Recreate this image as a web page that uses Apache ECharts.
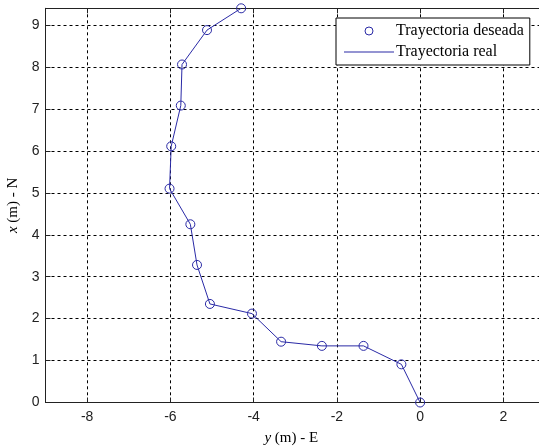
<!DOCTYPE html>
<html>
<head>
<meta charset="utf-8">
<script src="https://cdn.jsdelivr.net/npm/echarts@6/dist/echarts.min.js"></script>
<style>
html,body{margin:0;padding:0;background:#fff;}
#chart{width:539px;height:448px;}
</style>
</head>
<body>
<div id="chart"></div>
<script>
// Desired trajectory points: horizontal = y (m) - E, vertical = x (m) - N
const desiredE = [0, -0.45, -1.36, -2.36, -3.34, -4.04, -5.05, -5.36, -5.52, -6.02, -5.98, -5.75, -5.72, -5.12, -4.30];
const desiredN = [0, 0.91, 1.35, 1.35, 1.45, 2.12, 2.35, 3.28, 4.25, 5.10, 6.11, 7.08, 8.06, 8.88, 9.40];
// Real trajectory (follows the desired one)
const realE = [0, -0.45, -1.36, -2.36, -3.34, -4.04, -5.05, -5.36, -5.52, -6.02, -5.98, -5.75, -5.72, -5.12, -4.30];
const realN = [0, 0.91, 1.35, 1.35, 1.45, 2.12, 2.35, 3.28, 4.25, 5.10, 6.11, 7.08, 8.06, 8.88, 9.40];
const seriesNames = ['Trayectoria deseada', 'Trayectoria real'];
const xAxisTitle = ['y', ' (m) - E'];
const yAxisTitle = ['x', ' (m) - N'];

const blue = '#2a2aa6';
const chart = echarts.init(document.getElementById('chart'), null, {renderer: 'canvas'});

const pairs = (a, b) => a.map((v, i) => [v, b[i]]);

chart.setOption({
  backgroundColor: '#fff',
  animation: false,
  grid: {left: 45.5, top: 8.3, right: -6, bottom: 45.5, containLabel: false, outerBoundsMode: 'none'},
  legend: {
    left: 336, top: 18,
    orient: 'vertical',
    backgroundColor: '#fff',
    borderColor: '#000', borderWidth: 1, borderRadius: 0,
    padding: [5, 6, 5, 8],
    itemWidth: 50, itemHeight: 8, itemGap: 5,
    textStyle: {fontFamily: 'Liberation Serif', fontSize: 16, color: '#000', lineHeight: 16, padding: [0, 0, 0, -3]},
    data: [
      {name: seriesNames[0], icon: 'circle', itemStyle: {color: 'rgba(0,0,0,0)', borderColor: blue, borderWidth: 1}},
      {name: seriesNames[1], icon: 'path://M0 0 H50 V1 H0 Z', itemStyle: {color: blue, borderWidth: 0}}
    ]
  },
  xAxis: [{
    type: 'value', min: -9, max: 3, splitNumber: 6,
    position: 'bottom',
    axisLine: {show: true, onZero: false, lineStyle: {color: '#222', width: 1}},
    axisTick: {show: true, inside: true, length: 5, lineStyle: {color: '#222'}},
    axisLabel: {showMinLabel: false, showMaxLabel: false, margin: 8, color: '#222', fontFamily: 'Liberation Sans', fontSize: 14},
    splitLine: {show: true, lineStyle: {color: '#000', width: 1, type: [3, 3]}},
    name: '{i|' + xAxisTitle[0] + '}{n|' + xAxisTitle[1] + '}',
    nameLocation: 'middle', nameGap: 28,
    nameTextStyle: {padding: [0, 8, 0, 0], rich: {
      i: {fontFamily: 'Liberation Serif', fontStyle: 'italic', fontSize: 15, color: '#000'},
      n: {fontFamily: 'Liberation Serif', fontSize: 15, color: '#000'}
    }}
  }, {
    type: 'value', min: -9, max: 3, splitNumber: 6,
    position: 'top',
    axisLine: {show: true, onZero: false, lineStyle: {color: '#222', width: 1}},
    axisTick: {show: true, inside: true, length: 5, lineStyle: {color: '#222'}},
    axisLabel: {show: false},
    splitLine: {show: false}
  }],
  yAxis: [{
    type: 'value', min: 0, max: 9.4, interval: 1,
    axisLine: {show: true, onZero: false, lineStyle: {color: '#222', width: 1}},
    axisTick: {show: true, inside: true, length: 5, lineStyle: {color: '#222'}},
    axisLabel: {showMaxLabel: false, margin: 6, color: '#222', fontFamily: 'Liberation Sans', fontSize: 14},
    splitLine: {show: true, lineStyle: {color: '#000', width: 1, type: [3, 3]}},
    name: '{i|' + yAxisTitle[0] + '}{n|' + yAxisTitle[1] + '}',
    nameLocation: 'middle', nameRotate: 90, nameGap: 25,
    nameTextStyle: {rich: {
      i: {fontFamily: 'Liberation Serif', fontStyle: 'italic', fontSize: 15, color: '#000'},
      n: {fontFamily: 'Liberation Serif', fontSize: 15, color: '#000'}
    }}
  }],
  series: [{
    name: seriesNames[1],
    type: 'line',
    data: pairs(realE, realN),
    symbol: 'none',
    lineStyle: {color: blue, width: 1},
    itemStyle: {color: blue},
    z: 2
  }, {
    name: seriesNames[0],
    type: 'scatter',
    data: pairs(desiredE, desiredN),
    symbol: 'circle',
    symbolSize: 9,
    itemStyle: {color: 'rgba(0,0,0,0)', borderColor: blue, borderWidth: 1, opacity: 1},
    emphasis: {disabled: true},
    z: 3
  }]
});
</script>
</body>
</html>
